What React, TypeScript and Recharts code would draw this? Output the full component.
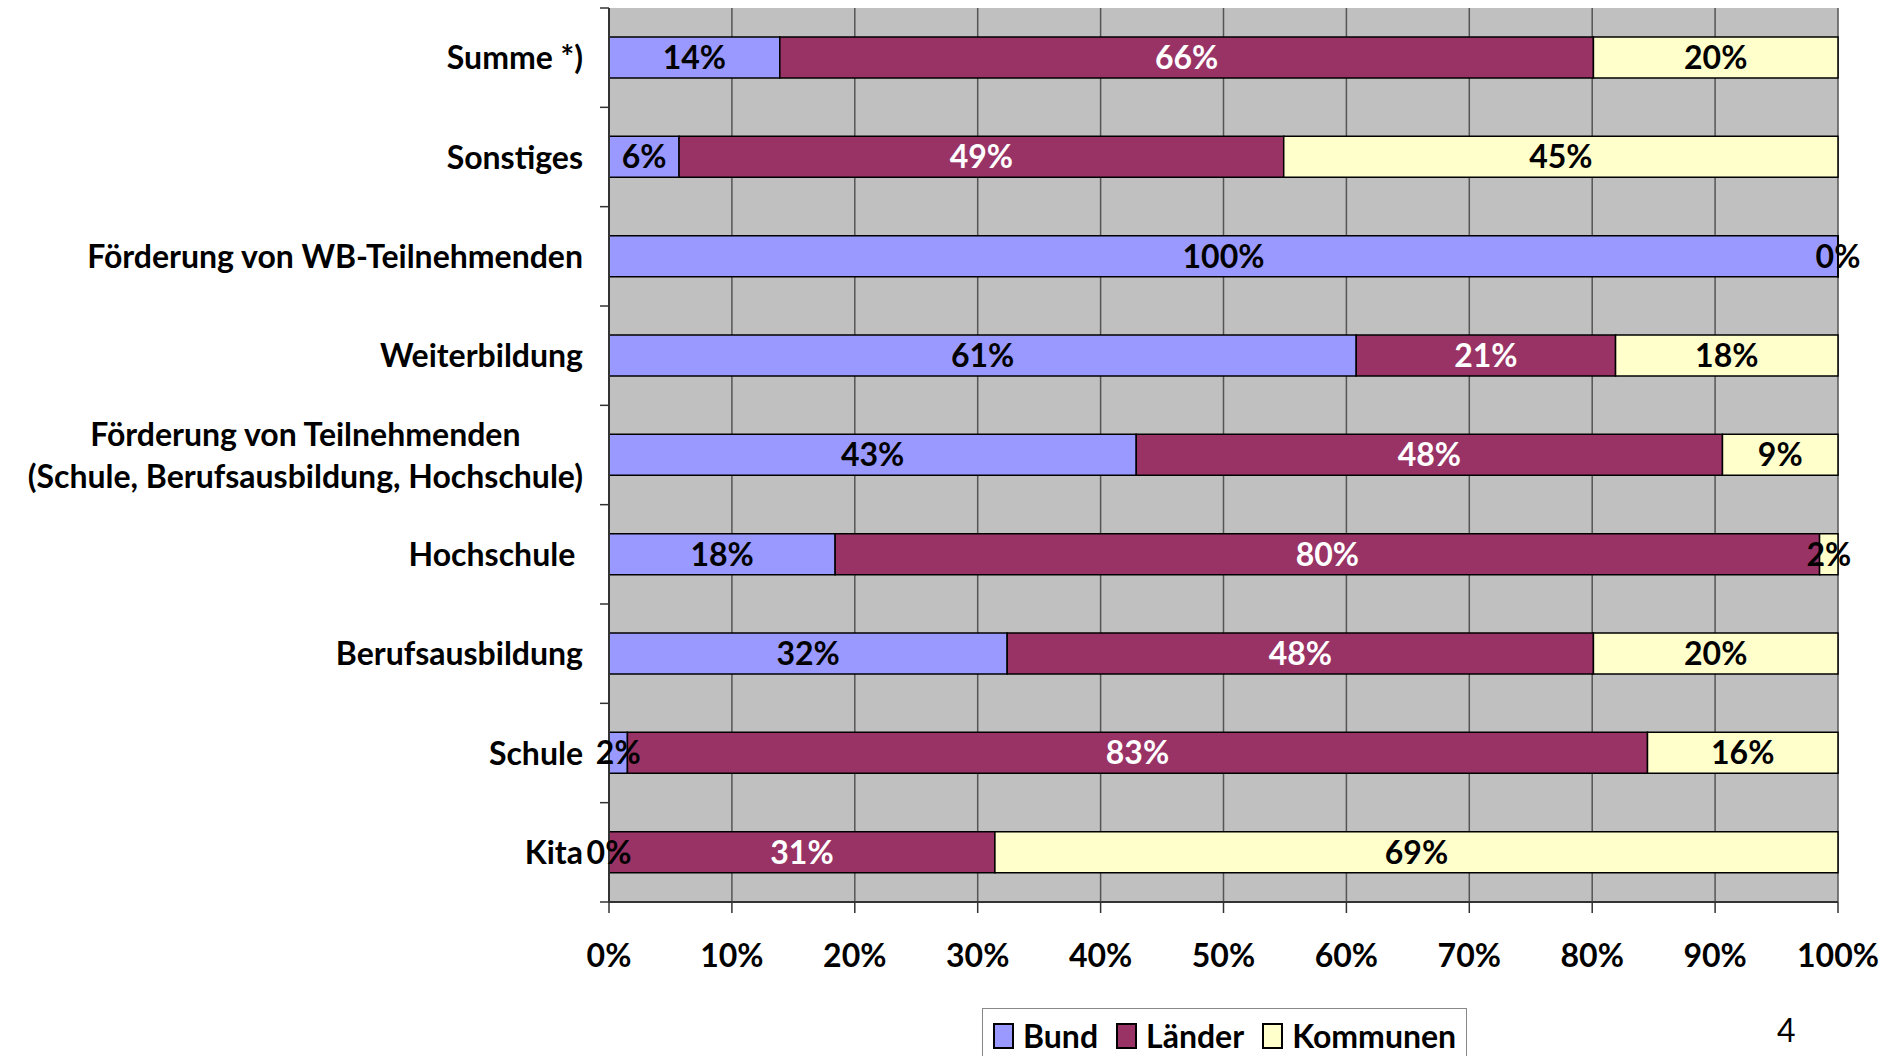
import { Bar, BarChart, CartesianGrid, LabelList, XAxis, YAxis } from "recharts";

const categories = [
  "Summe *)",
  "Sonstiges",
  "Förderung von WB-Teilnehmenden",
  "Weiterbildung",
  "Förderung von Teilnehmenden\n(Schule, Berufsausbildung, Hochschule)",
  "Hochschule ",
  "Berufsausbildung",
  "Schule",
  "Kita",
];

// shares in percent
const bund = [13.9, 5.7, 100, 60.8, 42.9, 18.4, 32.4, 1.5, 0];
const laender = [66.2, 49.2, null, 21.1, 47.7, 80.1, 47.7, 83.0, 31.4];
const kommunen = [19.9, 45.1, 0, 18.1, 9.4, 1.5, 19.9, 15.5, 68.6];

const xTicks = [0, 10, 20, 30, 40, 50, 60, 70, 80, 90, 100];

const series = [
  { key: "bund", name: "Bund", color: "#9999FF", text: "#000" },
  { key: "laender", name: "Länder", color: "#993366", text: "#fff" },
  { key: "kommunen", name: "Kommunen", color: "#FFFFCC", text: "#000" },
];

const data = categories.map((name, i) => ({
  name,
  bund: bund[i],
  laender: laender[i],
  kommunen: kommunen[i],
}));

const W = 1896;
const H = 1056;
const FONT = "Lato, 'Open Sans', sans-serif";
const FS = 32;
const Y_AXIS_W = 609;
const Y_TICK_MARGIN = 26;
const PLOT_TOP = 8;
const PLOT_BOTTOM = 902;
const X_AXIS_H = 60;
const BAND = (PLOT_BOTTOM - PLOT_TOP) / categories.length;

let ctx: CanvasRenderingContext2D | null = null;
function textWidth(s: string, font: string) {
  if (!ctx) ctx = document.createElement("canvas").getContext("2d");
  if (!ctx) return s.length * 16;
  ctx.font = font;
  return ctx.measureText(s).width;
}

function CategoryTick(props: any) {
  const { x, y, payload, index } = props;
  const lines = String(payload.value).split("\n");
  const axisX = x + Y_TICK_MARGIN;
  const multi = lines.length > 1;
  const widest = Math.max(...lines.map((l) => textWidth(l, `700 ${FS}px ${FONT}`)));
  const lineH = 42;
  const startY = y - ((lines.length - 1) * lineH) / 2;
  return (
    <g>
      <line x1={axisX - 9} x2={axisX} y1={y - BAND / 2} y2={y - BAND / 2} stroke="#333" strokeWidth={1.5} />
      {index === categories.length - 1 && (
        <line x1={axisX - 9} x2={axisX} y1={y + BAND / 2} y2={y + BAND / 2} stroke="#333" strokeWidth={1.5} />
      )}
      <text
        fontFamily={FONT}
        fontWeight={700}
        fontSize={FS}
        fill="#000"
        textAnchor={multi ? "middle" : "end"}
        style={{ whiteSpace: "pre" }}
      >
        {lines.map((l, i) => (
          <tspan key={i} x={multi ? x - widest / 2 : x} y={startY + i * lineH} dy="0.36em">
            {l}
          </tspan>
        ))}
      </text>
    </g>
  );
}

const makeLabel = (color: string) => (props: any) => {
  const vb = props.viewBox ?? props;
  const { x, y, width, height } = vb;
  const value = props.value;
  if (value == null) return null;
  return (
    <text
      x={x + width / 2}
      y={y + height / 2}
      dy="0.36em"
      textAnchor="middle"
      fill={color}
      fontFamily={FONT}
      fontWeight={700}
      fontSize={FS}
    >
      {Math.round(value)}%
    </text>
  );
};

export default function App() {
  return (
    <div
      style={{
        position: "absolute",
        left: 0,
        top: 0,
        width: W,
        height: H,
        overflow: "hidden",
        background: "#fff",
        fontFamily: FONT,
      }}
    >
      <BarChart
        width={W}
        height={H}
        data={data}
        layout="vertical"
        margin={{ top: PLOT_TOP, right: 58, bottom: H - PLOT_BOTTOM - X_AXIS_H, left: 0 }}
      >
        <CartesianGrid horizontal={false} fill="#C0C0C0" stroke="#555" strokeWidth={1.5} />
        <XAxis
          type="number"
          domain={[0, 100]}
          ticks={xTicks}
          tickFormatter={(v) => `${v}%`}
          height={X_AXIS_H}
          tickSize={11}
          tickMargin={31}
          axisLine={{ stroke: "#333", strokeWidth: 2 }}
          tickLine={{ stroke: "#333", strokeWidth: 1.5 }}
          tick={{ fill: "#000", fontSize: FS, fontWeight: 700, fontFamily: FONT }}
          interval={0}
        />
        <YAxis
          type="category"
          dataKey="name"
          width={Y_AXIS_W}
          tickSize={0}
          tickMargin={Y_TICK_MARGIN}
          tickLine={false}
          axisLine={{ stroke: "#333", strokeWidth: 2 }}
          tick={<CategoryTick />}
          interval={0}
        />
        {series.map((s) => (
          <Bar
            key={s.key}
            dataKey={s.key}
            name={s.name}
            stackId="a"
            fill={s.color}
            stroke="#000"
            strokeWidth={1.5}
            barSize={41}
            minPointSize={0.01}
            isAnimationActive={false}
          >
            <LabelList dataKey={s.key} content={makeLabel(s.text)} />
          </Bar>
        ))}
      </BarChart>

      <div
        style={{
          position: "absolute",
          left: 982,
          top: 1008,
          width: 485,
          height: 70,
          border: "1.5px solid #888",
          boxSizing: "border-box",
          background: "#fff",
          display: "flex",
          alignItems: "flex-start",
          paddingTop: 11,
          paddingLeft: 10,
          gap: 18,
        }}
      >
        {series.map((s) => (
          <div key={s.key} style={{ display: "flex", alignItems: "center", gap: 9 }}>
            <div
              style={{
                width: 21,
                height: 26,
                background: s.color,
                border: "2px solid #000",
                boxSizing: "border-box",
              }}
            />
            <span style={{ fontSize: FS, fontWeight: 700, lineHeight: "32px", color: "#000" }}>{s.name}</span>
          </div>
        ))}
      </div>

      <div style={{ position: "absolute", left: 1777, top: 1010, fontSize: 32, color: "#000" }}>4</div>
    </div>
  );
}
